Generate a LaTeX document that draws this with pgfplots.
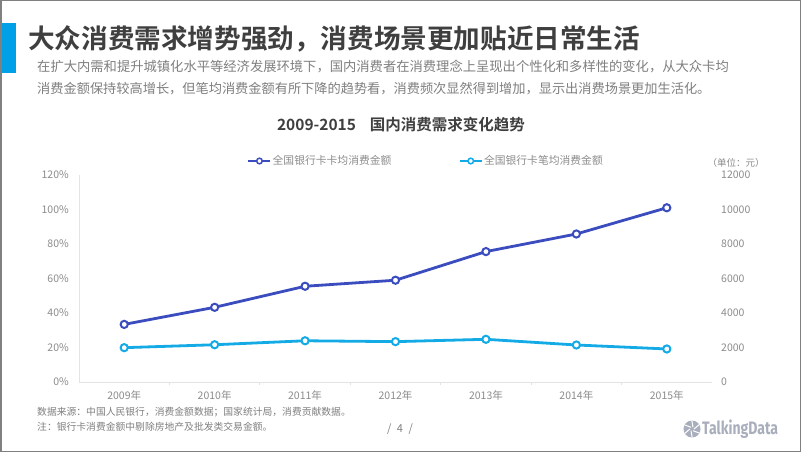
\documentclass[border=0pt]{standalone}
\usepackage{pgfplots}
\pgfplotsset{compat=1.18}
\usepackage{graphicx}
\usepackage{fontspec}
\setmainfont{Noto Sans CJK SC}[BoldFont={Noto Sans CJK SC Bold}]
\newfontfamily\logofont{Fira Sans}
\definecolor{framegray}{HTML}{808080}
\definecolor{barblue}{HTML}{00A0E9}
\definecolor{titlegray}{HTML}{3F3F3F}
\definecolor{subgray}{HTML}{7F7F7F}
\definecolor{tickgray}{HTML}{8C8C8C}
\definecolor{axisgray}{HTML}{E3E3E3}
\definecolor{darkblue}{RGB}{58,76,190}
\definecolor{lightblue}{RGB}{20,170,230}
\definecolor{logogray}{HTML}{A8AEBB}
\newcommand{\fs}[1]{\fontsize{#1}{#1}\selectfont}
\begin{document}
\begin{tikzpicture}[x=1pt,y=1pt]
\useasboundingbox (0,0) rectangle (802,452);
\fill[white] (0,0) rectangle (802,452);
\draw[framegray, line width=1.5pt] (0.75,0.75) rectangle (800.5,451.25);
\fill[barblue] (2,379) rectangle (16,429);
\node[anchor=west, inner sep=0pt, text=titlegray, font=\fs{26.6}\bfseries] at (28,413) {大众消费需求增势强劲，消费场景更加贴近日常生活};
\node[anchor=west, inner sep=0pt, text=subgray, font=\fs{13.3}] at (37,385) {在扩大内需和提升城镇化水平等经济发展环境下，国内消费者在消费理念上呈现出个性化和多样性的变化，从大众卡均};
\node[anchor=west, inner sep=0pt, text=subgray, font=\fs{13.2}] at (37,363) {消费金额保持较高增长，但笔均消费金额有所下降的趋势看，消费频次显然得到增加，显示出消费场景更加生活化。};
\node[inner sep=0pt, text=titlegray, font=\fs{15.5}\bfseries] at (401,327) {2009-2015\hspace{0.9em}国内消费需求变化趋势};
\node[inner sep=0pt, text=tickgray, font=\fs{9.5}] at (736,289) {（单位：元）};
\node[anchor=west, inner sep=0pt, text=subgray, font=\fs{9.8}] at (37,39.5) {数据来源：中国人民银行，消费金额数据；国家统计局，消费贡献数据。};
\node[anchor=west, inner sep=0pt, text=subgray, font=\fs{9.8}] at (37,25) {注：银行卡消费金额中剔除房地产及批发类交易金额。};
\node[inner sep=0pt, text=subgray, font=\fs{11}] at (400,23) {/\hspace{0.5em}4\hspace{0.5em}/};
% logo
\fill[logogray] (692,23) circle (8.5);
\foreach \a in {0,60,...,300} {\draw[white, line width=1pt] (692,23) ++(\a:2) -- ++(\a+40:7);}
\node[anchor=west, inner sep=0pt, text=logogray, font=\logofont\fs{18}\bfseries] at (702,23) {\scalebox{0.78}[1]{TalkingData}};
\begin{axis}[
  at={(79pt,70pt)}, anchor=south west, scale only axis,
  width=633pt, height=207pt,
  xmin=-0.5, xmax=6.5, ymin=0, ymax=120,
  axis x line*=bottom, axis y line*=left,
  x axis line style={draw=axisgray, line width=0.8pt, -},
  y axis line style={draw=axisgray, line width=0.8pt, -},
  xtick={0,...,6},
  xticklabels={2009年,2010年,2011年,2012年,2013年,2014年,2015年},
  minor xtick={0.5,1.5,2.5,3.5,4.5,5.5},
  tick align=outside, major tick length=0pt, minor tick length=3pt,
  minor tick style={draw=axisgray, line width=0.8pt},
  ytick={0,20,...,120},
  yticklabels={0\%,20\%,40\%,60\%,80\%,100\%,120\%},
  xticklabel style={font=\fs{10.5}, text=tickgray, anchor=center, inner sep=0pt, yshift=-13.7pt},
  yticklabel style={font=\fs{10.5}, text=tickgray, anchor=east, inner sep=0pt, xshift=-10pt},
]
\end{axis}
\begin{axis}[
  at={(79pt,70pt)}, anchor=south west, scale only axis,
  width=633pt, height=207pt,
  xmin=-0.5, xmax=6.5, ymin=0, ymax=12000,
  axis x line=none, axis y line*=right,
  y axis line style={draw=none},
  major tick length=0pt,
  scaled y ticks=false,
  ytick={0,2000,...,12000},
  yticklabels={0,2000,4000,6000,8000,10000,12000},
  yticklabel style={font=\fs{10.5}, text=tickgray, anchor=west, inner sep=0pt, xshift=9pt},
  legend columns=2,
  legend style={draw=none, fill=none, inner sep=0pt, at={(0.2654,1.0676)}, anchor=west,
    font=\fs{10.8}, text=tickgray, nodes={inner sep=1pt},
    /tikz/every even column/.append style={column sep=66pt}},
  legend image code/.code={
    \draw[#1, mark=none, line width=2.5pt] (0pt,0pt) -- (22pt,0pt);
    \draw[#1, mark=none, line width=1.5pt, fill=white] (11pt,0pt) circle (2.8pt);
  },
]
\addplot[darkblue, line width=2.8pt, mark=*, mark size=3.6pt, mark options={fill=white, draw=darkblue, line width=2pt}]
  coordinates {(0,3340) (1,4330) (2,5550) (3,5900) (4,7560) (5,8580) (6,10100)};
\addlegendentry{全国银行卡卡均消费金额}
\addplot[lightblue, line width=2.8pt, mark=*, mark size=3.6pt, mark options={fill=white, draw=lightblue, line width=2pt}]
  coordinates {(0,1990) (1,2160) (2,2390) (3,2340) (4,2475) (5,2145) (6,1915)};
\addlegendentry{全国银行卡笔均消费金额}
\end{axis}
\end{tikzpicture}
\end{document}
